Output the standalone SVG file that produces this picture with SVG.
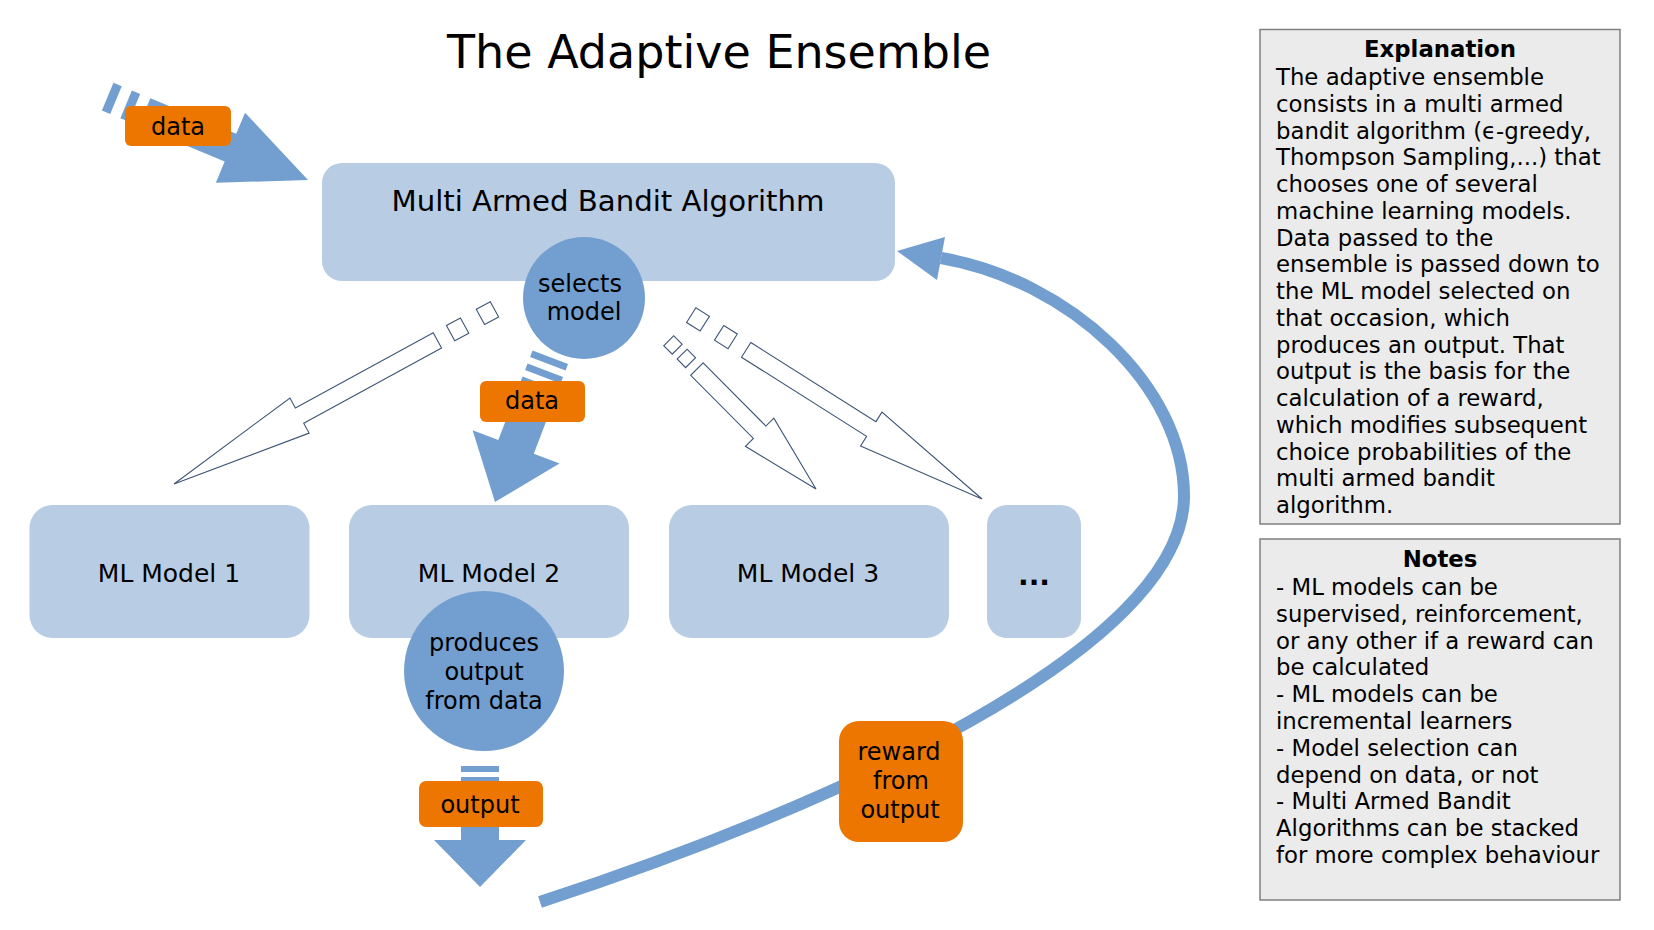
<svg xmlns="http://www.w3.org/2000/svg" width="1654" height="930" viewBox="0 0 1654 930">
<style>
text{font-family:"DejaVu Sans","Liberation Sans",sans-serif;fill:#000}
.box{fill:#b8cce4}
.circ{fill:#729fcf}
.lbl{fill:#ed7600}
.fill{fill:#729fcf}
.hollow{fill:#fff;stroke:#3d5576;stroke-width:1.1;stroke-linejoin:miter}
.t24{font-size:24px;text-anchor:middle}
.note{fill:#ebebeb;stroke:#7f7f7f;stroke-width:1.5}
.side{font-size:22.8px}
</style>
<rect width="1654" height="930" fill="#fff"/>
<text x="719" y="68" style="font-size:46px;text-anchor:middle">The Adaptive Ensemble</text>

<g id="mab">
<rect class="box" x="322" y="163" width="573" height="118" rx="20"/>
<text x="608" y="211" style="font-size:29.2px;text-anchor:middle">Multi Armed Bandit Algorithm</text>
</g>
<g id="selects">
<circle class="circ" cx="584" cy="298" r="61"/>
<text class="t24" x="580" y="292">selects</text>
<text class="t24" x="584" y="320">model</text>
</g>
<g id="ml1">
<rect class="box" x="29.5" y="505" width="280" height="133" rx="23"/>
<text x="169" y="582" style="font-size:25px;text-anchor:middle">ML Model 1</text>
</g>
<g id="ml2">
<rect class="box" x="349" y="505" width="280" height="133" rx="23"/>
<text x="489" y="582" style="font-size:25px;text-anchor:middle">ML Model 2</text>
</g>
<g id="ml3">
<rect class="box" x="669" y="505" width="280" height="133" rx="23"/>
<text x="808" y="582" style="font-size:25px;text-anchor:middle">ML Model 3</text>
</g>
<g id="more">
<rect class="box" x="987" y="505" width="94" height="133" rx="20"/>
<text x="1034" y="585" style="font-size:28px;font-weight:bold;text-anchor:middle">...</text>
</g>
<g id="produces">
<circle class="circ" cx="484" cy="671" r="80"/>
<text class="t24" x="484" y="651">produces</text>
<text class="t24" x="484" y="680">output</text>
<text class="t24" x="484" y="709">from data</text>
</g>

<g id="connectors">
<g id="data-in" transform="translate(308,180) rotate(22.6)">
<rect class="fill" x="-217" y="-15" width="9" height="30"/>
<rect class="fill" x="-197" y="-15" width="9" height="30"/>
<polygon class="fill" points="-177,-15 -84,-15 -84,-38 0,0 -84,38 -84,15 -177,15"/>
</g>
<g id="to-ml2" transform="translate(495,502) rotate(110.9)">
<rect class="fill" x="-155" y="-19" width="7" height="38"/>
<rect class="fill" x="-141" y="-19" width="7" height="38"/>
<polygon class="fill" points="-127,-19 -59,-19 -59,-46.5 0,0 -59,46.5 -59,19 -127,19"/>
</g>
<g id="to-ml1" transform="translate(174,484) rotate(151.4)">
<rect class="hollow" x="-365" y="-8.7" width="16" height="17.4"/>
<rect class="hollow" x="-331" y="-8.7" width="16" height="17.4"/>
<polygon class="hollow" points="-300,-8.7 -143,-8.7 -143,-20 0,0 -143,20 -143,8.7 -300,8.7"/>
</g>
<g id="to-ml3" transform="translate(816,489) rotate(45.2)">
<rect class="hollow" x="-209" y="-7" width="12" height="14"/>
<rect class="hollow" x="-190" y="-7" width="12" height="14"/>
<polygon class="hollow" points="-169,-8.8 -80,-8.8 -80,-20 0,0 -80,20 -80,8.8 -169,8.8"/>
</g>
<g id="to-more" transform="translate(982,499) rotate(32.3)">
<rect class="hollow" x="-344" y="-8.7" width="16" height="17.4"/>
<rect class="hollow" x="-311" y="-8.7" width="16" height="17.4"/>
<polygon class="hollow" points="-279,-8.7 -131,-8.7 -131,-20 0,0 -131,20 -131,8.7 -279,8.7"/>
</g>
<g id="output-arrow">
<rect class="fill" x="461" y="766" width="38" height="6"/>
<polygon class="fill" points="461,777 499,777 499,840 526,840 480,887 434,840 461,840"/>
</g>
<g id="reward-arrow">
<path d="M540,902 C825,809 1184,650 1184,496 C1184,386 1069,280 941,258" fill="none" stroke="#729fcf" stroke-width="12"/>
<polygon class="fill" points="897,251 945,237 937,280"/>
</g>
<g id="lbl-data1">
<rect class="lbl" x="125" y="106" width="106" height="40" rx="6"/>
<text class="t24" x="178" y="134.5">data</text>
</g>
<g id="lbl-data2">
<rect class="lbl" x="480" y="381" width="105" height="41" rx="6"/>
<text class="t24" x="532" y="409">data</text>
</g>
<g id="lbl-output">
<rect class="lbl" x="419" y="781" width="124" height="46" rx="7"/>
<text class="t24" x="480" y="812.5">output</text>
</g>
<g id="lbl-reward">
<rect class="lbl" x="839" y="721" width="124" height="121" rx="20"/>
<text class="t24" x="899" y="760">reward</text>
<text class="t24" x="901" y="789">from</text>
<text class="t24" x="900" y="818">output</text>
</g>
</g>

<g id="explanation">
<rect class="note" x="1260" y="29.5" width="360" height="494.5"/>
<text x="1440" y="57" style="font-size:22.8px;font-weight:bold;text-anchor:middle">Explanation</text>
<text class="side" x="1276" y="85"><tspan x="1276">The adaptive ensemble</tspan><tspan x="1276" dy="26.75">consists in a multi armed</tspan><tspan x="1276" dy="26.75">bandit algorithm (ϵ-greedy,</tspan><tspan x="1276" dy="26.75">Thompson Sampling,...) that</tspan><tspan x="1276" dy="26.75">chooses one of several</tspan><tspan x="1276" dy="26.75">machine learning models.</tspan><tspan x="1276" dy="26.75">Data passed to the</tspan><tspan x="1276" dy="26.75">ensemble is passed down to</tspan><tspan x="1276" dy="26.75">the ML model selected on</tspan><tspan x="1276" dy="26.75">that occasion, which</tspan><tspan x="1276" dy="26.75">produces an output. That</tspan><tspan x="1276" dy="26.75">output is the basis for the</tspan><tspan x="1276" dy="26.75">calculation of a reward,</tspan><tspan x="1276" dy="26.75">which modifies subsequent</tspan><tspan x="1276" dy="26.75">choice probabilities of the</tspan><tspan x="1276" dy="26.75">multi armed bandit</tspan><tspan x="1276" dy="26.75">algorithm.</tspan></text>
</g>
<g id="notes">
<rect class="note" x="1260" y="539" width="360" height="361"/>
<text x="1440" y="567" style="font-size:22.8px;font-weight:bold;text-anchor:middle">Notes</text>
<text class="side" x="1276" y="595"><tspan x="1276">- ML models can be</tspan><tspan x="1276" dy="26.8">supervised, reinforcement,</tspan><tspan x="1276" dy="26.8">or any other if a reward can</tspan><tspan x="1276" dy="26.8">be calculated</tspan><tspan x="1276" dy="26.8">- ML models can be</tspan><tspan x="1276" dy="26.8">incremental learners</tspan><tspan x="1276" dy="26.8">- Model selection can</tspan><tspan x="1276" dy="26.8">depend on data, or not</tspan><tspan x="1276" dy="26.8">- Multi Armed Bandit</tspan><tspan x="1276" dy="26.8">Algorithms can be stacked</tspan><tspan x="1276" dy="26.8">for more complex behaviour</tspan></text>
</g>
</svg>
